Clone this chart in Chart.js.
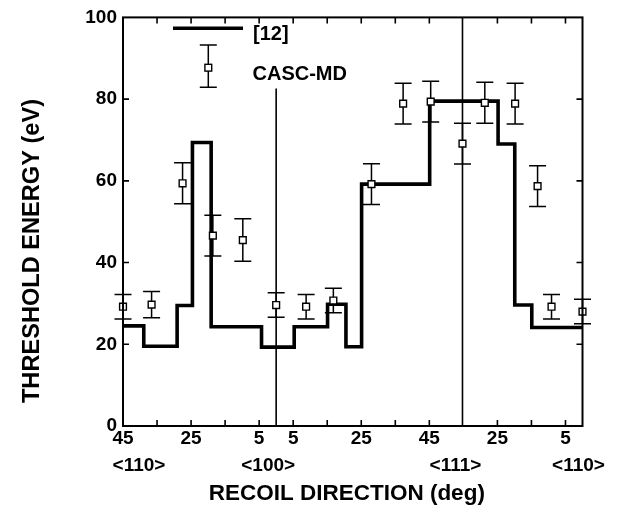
<!DOCTYPE html>
<html>
<head>
<meta charset="utf-8">
<title>Threshold energy vs recoil direction</title>
<script src="https://cdn.jsdelivr.net/npm/chart.js@4/dist/chart.umd.min.js"></script>
<style>
  html, body { margin: 0; padding: 0; background: #fff; }
  #wrap { width: 618px; height: 508px; }
</style>
</head>
<body>
<div id="wrap"><canvas id="chart" width="618" height="508"></canvas></div>
<script>
// Recoil direction is measured along the unfolded path
// <110> -> <100> -> <111> -> <110>  (45 + 54.74 + 35.26 = 135 degrees).
const dirPos  = [0, 45, 99.74, 135];
const dirText = ['<110>', '<100>', '<111>', '<110>'];

// labelled angle ticks (angle from the nearest pole) and all tick marks
const xTickPos  = [0, 20, 40, 50, 70, 90, 110, 130];
const xTickText = ['45', '25', '5', '5', '25', '45', '25', '5'];
const xMarkPos  = [10, 20, 30, 40, 50, 60, 70, 80, 90, 110, 120, 130];
const yTickPos  = [0, 20, 40, 60, 80, 100];

// reference [12]: left edge of each step and the step level (eV)
const stepEdges  = [0, 6.1, 15.9, 20.4, 25.9, 40.7, 50.3, 60.1, 65.5, 70.1, 90.1, 110.2, 115.1, 120.1, 135];
const stepLevels = [24.5, 19.5, 29.5, 69.4, 24.3, 19.3, 24.3, 29.8, 19.4, 59.2, 79.5, 69.0, 29.6, 24.1];

// CASC-MD thresholds (eV) with their uncertainties
const mdDir    = [0, 8.4, 17.5, 26.4, 35.2, 45, 53.8, 61.8, 73, 82.3, 90.4, 99.74, 106.3, 115.2, 121.8, 125.9, 135];
const mdEnergy = [29.2, 29.7, 59.4, 46.6, 45.5, 29.6, 29.2, 30.7, 59.2, 78.9, 79.4, 69.1, 79.1, 78.9, 58.7, 29.2, 28.0];
const mdError  = [3, 3.2, 5, 5, 5.2, 3, 3, 3, 5, 5, 5, 5, 5, 5, 5, 3, 3];

// how far up the <100> divider runs (eV), leaving room for the key text
const dividerTop = [82.6, 100];

const FONT = '"Liberation Sans", Arial, Helvetica, sans-serif';
const INK = '#000';

const stepPoints = stepEdges.map((x, i) => ({ x, y: stepLevels[Math.min(i, stepLevels.length - 1)] }));
const mdPoints = mdDir.map((x, i) => ({ x, y: mdEnergy[i] }));

// small style offsets for the pole labels under the axis
const poleLabelShift = [16, -8, -7, -4];

function errorBar(ctx, px, top, bot, cap) {
  ctx.beginPath();
  ctx.moveTo(px, top); ctx.lineTo(px, bot);
  ctx.moveTo(px - cap, top); ctx.lineTo(px + cap, top);
  ctx.moveTo(px - cap, bot); ctx.lineTo(px + cap, bot);
  ctx.stroke();
}

const decorations = {
  id: 'decorations',
  beforeDatasetsDraw(chart) {
    const { ctx, chartArea: a, scales: { x, y } } = chart;
    ctx.save();
    ctx.strokeStyle = INK;
    // pole dividers
    ctx.lineWidth = 1.6;
    [dirPos[1], dirPos[2]].forEach((d, i) => {
      const px = x.getPixelForValue(d);
      ctx.beginPath();
      ctx.moveTo(px, y.getPixelForValue(dividerTop[i]));
      ctx.lineTo(px, a.bottom);
      ctx.stroke();
    });
    // error bars of the CASC-MD points
    ctx.lineWidth = 1.5;
    mdDir.forEach((d, i) => {
      errorBar(ctx, x.getPixelForValue(d),
        y.getPixelForValue(mdEnergy[i] + mdError[i]),
        y.getPixelForValue(mdEnergy[i] - mdError[i]), 8.5);
    });
    ctx.restore();
  },
  afterDraw(chart) {
    const { ctx, chartArea: a, scales: { x, y } } = chart;
    ctx.save();
    ctx.strokeStyle = INK;
    ctx.fillStyle = INK;

    // plot frame with inward ticks on all four sides
    ctx.lineWidth = 2;
    ctx.strokeRect(a.left, a.top, a.right - a.left, a.bottom - a.top);
    ctx.lineWidth = 1.6;
    ctx.beginPath();
    xMarkPos.forEach(v => {
      const px = x.getPixelForValue(v);
      ctx.moveTo(px, a.bottom); ctx.lineTo(px, a.bottom - 6);
      ctx.moveTo(px, a.top); ctx.lineTo(px, a.top + 6);
    });
    yTickPos.slice(1, -1).forEach(v => {
      const py = y.getPixelForValue(v);
      ctx.moveTo(a.left, py); ctx.lineTo(a.left + 6, py);
      ctx.moveTo(a.right, py); ctx.lineTo(a.right - 6, py);
    });
    ctx.stroke();

    // pole names under the angle labels
    ctx.font = 'bold 19px ' + FONT;
    ctx.textAlign = 'center';
    ctx.textBaseline = 'middle';
    dirPos.forEach((d, i) => {
      ctx.fillText(dirText[i], x.getPixelForValue(d) + poleLabelShift[i], 466);
    });

    // axis titles
    ctx.font = 'bold 22.5px ' + FONT;
    ctx.textBaseline = 'alphabetic';
    ctx.fillText('RECOIL DIRECTION (deg)', (a.left + a.right) / 2 - 6, 500);
    ctx.save();
    ctx.translate(39, 251);
    ctx.rotate(-Math.PI / 2);
    ctx.font = 'bold 23.6px ' + FONT;
    ctx.fillText('THRESHOLD ENERGY (eV)', 0, 0);
    ctx.restore();

    // key
    ctx.lineWidth = 3.6;
    ctx.beginPath();
    ctx.moveTo(173, 28.3); ctx.lineTo(243, 28.3);
    ctx.stroke();
    ctx.lineWidth = 1.5;
    errorBar(ctx, 208.3, 45, 87.3, 8.5);
    ctx.fillStyle = '#fff';
    ctx.fillRect(204.9, 64.3, 6.8, 6.8);
    ctx.lineWidth = 1.4;
    ctx.strokeRect(204.9, 64.3, 6.8, 6.8);
    ctx.fillStyle = INK;
    ctx.font = 'bold 20px ' + FONT;
    ctx.textAlign = 'left';
    ctx.fillText('[12]', 253, 39.5);
    ctx.fillText('CASC-MD', 252.5, 80);
    ctx.restore();
  }
};

new Chart(document.getElementById('chart').getContext('2d'), {
  type: 'line',
  data: {
    datasets: [
      {
        label: '[12]',
        data: stepPoints,
        stepped: true,
        borderColor: INK,
        borderWidth: 3.6,
        pointRadius: 0,
        fill: false,
        clip: false,
        order: 2
      },
      {
        label: 'CASC-MD',
        data: mdPoints,
        showLine: false,
        pointStyle: 'rect',
        pointRadius: 4.8,
        pointBorderWidth: 1.4,
        pointBackgroundColor: '#fff',
        pointBorderColor: INK,
        clip: false,
        order: 1
      }
    ]
  },
  options: {
    responsive: false,
    animation: false,
    devicePixelRatio: 1,
    layout: { padding: { left: 0, right: 35.5, top: 11, bottom: 0 } },
    plugins: { legend: { display: false }, tooltip: { enabled: false } },
    scales: {
      x: {
        type: 'linear',
        min: 0,
        max: 135,
        grid: { display: false, drawTicks: false },
        border: { display: false },
        afterBuildTicks: s => { s.ticks = xTickPos.map(v => ({ value: v })); },
        afterFit: s => { s.height = 82; },
        ticks: {
          autoSkip: false,
          maxRotation: 0,
          padding: 1,
          color: INK,
          font: { family: FONT, size: 19, weight: 'bold' },
          callback: (v, i) => xTickText[i]
        }
      },
      y: {
        type: 'linear',
        min: 0,
        max: 100,
        grid: { display: false, drawTicks: false },
        border: { display: false },
        afterBuildTicks: s => { s.ticks = yTickPos.map(v => ({ value: v })); },
        afterFit: s => { s.width = 123; },
        ticks: {
          padding: 6,
          color: INK,
          font: { family: FONT, size: 19, weight: 'bold' }
        }
      }
    }
  },
  plugins: [decorations]
});
</script>
</body>
</html>
